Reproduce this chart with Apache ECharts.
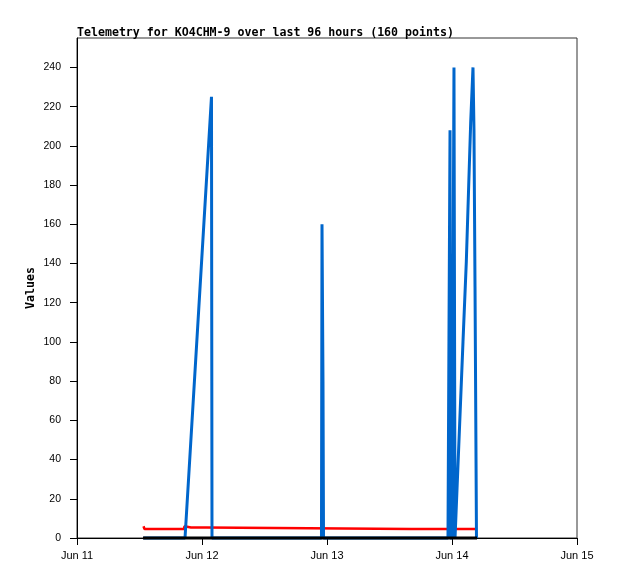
<!DOCTYPE html>
<html>
<head>
<meta charset="utf-8">
<script src="https://cdn.jsdelivr.net/npm/echarts@6/dist/echarts.min.js"></script>
<style>
html,body{margin:0;padding:0;background:#fff;}
#chart{width:618px;height:579px;}
</style>
</head>
<body>
<div id="chart"></div>
<script>
// x values are hours since Jun 11 00:00
const titleText = 'Telemetry for KO4CHM-9 over last 96 hours (160 points)';
const xTickLabels = ['Jun 11', 'Jun 12', 'Jun 13', 'Jun 14', 'Jun 15'];
const yTicks = [0, 20, 40, 60, 80, 100, 120, 140, 160, 180, 200, 220, 240];

const redHours  = [12.77, 12.96, 20.54, 20.64, 21.89, 24.77, 24.87, 64.13, 64.32, 64.70, 76.80];
const redValues = [6.0,   4.6,   4.6,   6.0,   5.4,   5.4,   4.6,   4.6,   5.6,   4.6,   4.6];

const blueHours  = [12.77, 20.74, 25.82, 25.92, 46.94, 47.04, 47.23, 47.33, 71.23, 71.42, 71.62, 71.71,
                    72.10, 72.19, 72.38, 72.58, 72.77, 74.11, 74.75, 75.21, 75.59, 76.03, 76.22, 76.42, 76.70];
const blueValues = [0,     0,     225,   0,     0,     160,   80,    0,     0,     104,   208,   0,
                    0,     120,   240,   0,     0,     100,   141,   180,   212,   240,   208,   128,   0];

const blackHours  = [12.67, 76.80];
const blackValues = [0, 0];

function pairs(xs, ys) { return xs.map((x, i) => [x, ys[i]]); }

const chart = echarts.init(document.getElementById('chart'), null, {renderer: 'canvas'});
const mono = '"DejaVu Sans Mono", monospace';
chart.setOption({
  animation: false,
  backgroundColor: '#fff',
  title: {
    text: titleText,
    left: 77, top: 27, padding: 0,
    textStyle: {fontFamily: mono, fontSize: 11.6, fontWeight: 'bold', color: '#000'}
  },
  grid: {left: 77, top: 38, width: 500, height: 500, show: true, borderColor: '#333', borderWidth: 1, backgroundColor: 'transparent'},
  xAxis: {
    type: 'value', min: 0, max: 96, interval: 24,
    axisLine: {lineStyle: {color: '#000', width: 1}},
    axisTick: {show: true, length: 7, lineStyle: {color: '#000'}},
    splitLine: {show: false},
    axisLabel: {
      margin: 12, color: '#000', fontFamily: '"Liberation Sans", sans-serif', fontSize: 11,
      formatter: v => xTickLabels[Math.round(v / 24)]
    }
  },
  yAxis: {
    type: 'value', min: 0, max: 255, interval: 20,
    name: 'Values', nameLocation: 'middle', nameGap: 40, nameRotate: 90, nameMoveOverlap: false,
    nameTextStyle: {fontFamily: mono, fontSize: 11.6, fontWeight: 'bold', color: '#000'},
    axisLine: {show: true, lineStyle: {color: '#000', width: 1}},
    axisTick: {show: true, length: 7, customValues: yTicks, lineStyle: {color: '#000'}},
    splitLine: {show: false},
    axisLabel: {
      margin: 16, color: '#000', fontFamily: '"Liberation Sans", sans-serif', fontSize: 10.5,
      customValues: yTicks
    }
  },
  series: [
    {type: 'line', data: pairs(redHours, redValues), showSymbol: false, clip: false,
     lineStyle: {color: '#ff0000', width: 2.5}, itemStyle: {color: '#ff0000'}},
    {type: 'line', data: pairs(blueHours, blueValues), showSymbol: false, clip: false,
     lineStyle: {color: '#0066cc', width: 3}, itemStyle: {color: '#0066cc'}},
    {type: 'line', data: pairs(blackHours, blackValues), showSymbol: false, clip: false,
     lineStyle: {color: '#000', width: 3}, itemStyle: {color: '#000'}}
  ]
});
</script>
</body>
</html>
